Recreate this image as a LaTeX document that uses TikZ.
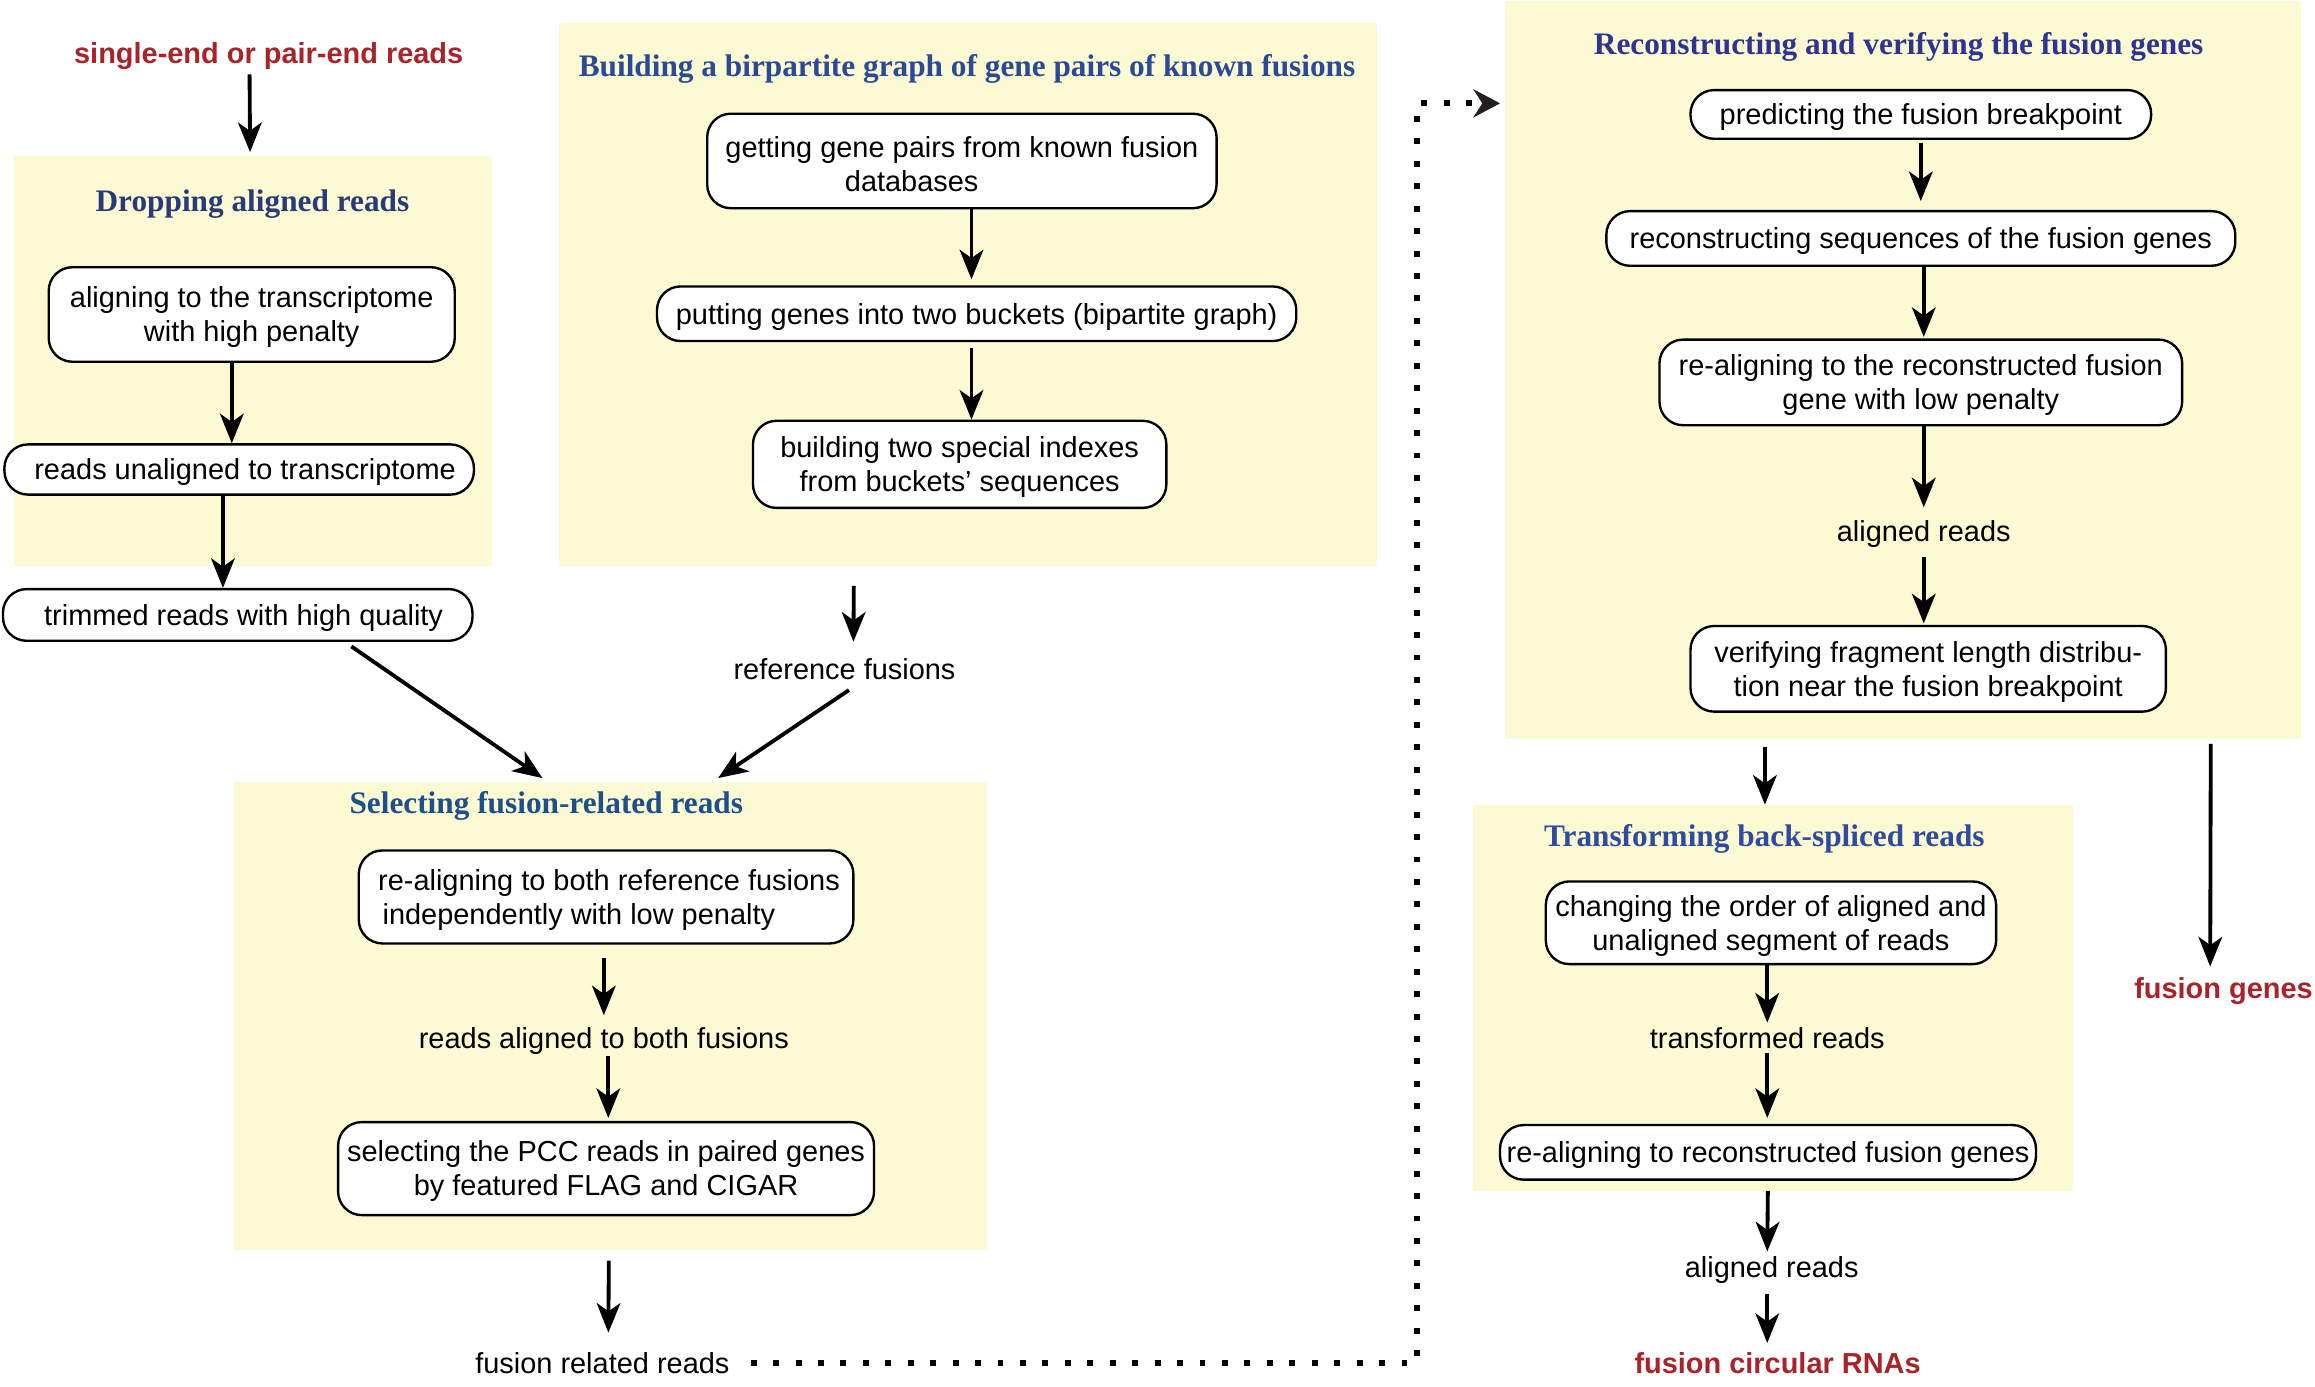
\documentclass[tikz,border=0pt]{standalone}
\usepackage{fontspec}
\setmainfont{Liberation Sans}
\newfontfamily\headserif{Liberation Serif}
\usetikzlibrary{arrows.meta}

\definecolor{panelfill}{HTML}{FCFAD2}
\definecolor{outred}{HTML}{A8232A}
\definecolor{hdA}{HTML}{283A7A}
\definecolor{hdB}{HTML}{2A4A98}
\definecolor{hdC}{HTML}{1D4F8C}
\definecolor{hdD}{HTML}{2D3492}
\definecolor{hdE}{HTML}{2E4B9F}
\definecolor{dotink}{HTML}{231F20}

\newcommand\bodyfont{\fontsize{9.8}{11.5}\selectfont}
\newcommand\headfont{\headserif\bfseries\fontsize{10.6}{12}\selectfont}
% tall strut that sets the text of a box a little lower
\newcommand\topstrut{\rule{0pt}{9pt}}

\tikzset{
  panel/.style={fill=panelfill, inner sep=0pt, anchor=north west},
  stepbox/.style={draw, line width=0.8pt, rounded corners=8pt, fill=white,
    align=center, inner sep=0pt, font=\bodyfont},
  plain/.style={inner sep=0pt, text height=8pt, text depth=1pt, font=\bodyfont},
  outcome/.style={plain, font=\bodyfont\bfseries, text=outred},
  head/.style={inner sep=0pt, text height=8.5pt, text depth=1.5pt, font=\headfont},
  arr/.style={line width=1.3pt, -{Stealth[length=10pt,width=8pt,inset=2.8pt]}},
  dotline/.style={line width=2pt, dash pattern=on 2pt off 5.6pt,
    -{Stealth[length=9pt,width=9.5pt,inset=3pt,color=dotink]}}
}

\begin{document}
\begin{tikzpicture}[x=0.5pt,y=-0.5pt]
\useasboundingbox (0,0) rectangle (1568,939);

% background panels
\node[panel, minimum width=162pt,   minimum height=139pt]   (p1) at (9,105)   {};
\node[panel, minimum width=277pt,   minimum height=184pt]   (p2) at (378,15)  {};
\node[panel, minimum width=255pt,   minimum height=158.5pt] (p3) at (158,529) {};
\node[panel, minimum width=269.5pt, minimum height=250pt]   (p4) at (1019,0)  {};
\node[panel, minimum width=203.5pt, minimum height=130.5pt] (p5) at (997,545)  {};

% panel headings
\node[head, text=hdA] (h1) at (171,136)  {Dropping aligned reads};
\node[head, text=hdB] (h2) at (655,45)   {Building a birpartite graph of gene pairs of known fusions};
\node[head, text=hdC] (h3) at (370,544)  {Selecting fusion-related reads};
\node[head, text=hdD] (h4) at (1286,30)  {Reconstructing and verifying the fusion genes};
\node[head, text=hdE] (h5) at (1195,566) {Transforming back-spliced reads};

% dropping aligned reads
\node[outcome] (t0) at (182,36) {single-end or pair-end reads};
\node[stepbox, minimum width=137.5pt, minimum height=32pt] (a1) at (170.5,213)
  {\topstrut aligning to the transcriptome\\with high penalty};
\node[stepbox, minimum width=159pt, minimum height=17pt] (a2) at (162,318)
  {\topstrut\hspace*{4pt}reads unaligned to transcriptome};
\node[stepbox, minimum width=159pt, minimum height=17.5pt] (a3) at (161,416.5)
  {\topstrut\hspace*{4pt}trimmed reads with high quality};

% bipartite graph of known fusions
\node[stepbox, minimum width=172.5pt, minimum height=32pt] (b1) at (651.5,109)
  {\topstrut getting gene pairs from known fusion\\databases\hspace*{34pt}};
\node[stepbox, minimum width=216.5pt, minimum height=18.5pt] (b2) at (661.5,212.5)
  {\topstrut putting genes into two buckets (bipartite graph)};
\node[stepbox, minimum width=140pt, minimum height=29.5pt] (b3) at (650,314.5)
  {\topstrut building two special indexes\\from buckets’ sequences};
\node[plain] (tRef) at (572,453) {reference fusions};

% selecting fusion-related reads
\node[stepbox, align=left, minimum width=167.5pt, minimum height=31.5pt] (c1) at (410.5,607.5)
  {\topstrut\hspace*{2pt}re-aligning to both reference fusions\\\hspace*{3.5pt}independently with low penalty};
\node[plain] (tRA) at (409,703) {reads aligned to both fusions};
\node[stepbox, minimum width=181.5pt, minimum height=31.5pt] (c2) at (410.5,791.5)
  {\topstrut selecting the PCC reads in paired genes\\by featured FLAG and CIGAR};
\node[plain] (tFR) at (408,923) {fusion related reads};

% reconstructing and verifying
\node[stepbox, minimum width=156pt, minimum height=16.5pt] (d1) at (1301,77.5)
  {\topstrut predicting the fusion breakpoint};
\node[stepbox, minimum width=213pt, minimum height=18.5pt] (d2) at (1301,161.5)
  {\topstrut reconstructing sequences of the fusion genes};
\node[stepbox, minimum width=177pt, minimum height=29pt] (d3) at (1301,259)
  {\topstrut re-aligning to the reconstructed fusion\\gene with low penalty};
\node[plain] (tAR1) at (1303,360) {aligned reads};
\node[stepbox, minimum width=161pt, minimum height=29pt] (d4) at (1306,453)
  {\topstrut verifying fragment length distribu-\\tion near the fusion breakpoint};
\node[outcome] (tFG) at (1506,669) {fusion genes};

% transforming back-spliced reads
\node[stepbox, minimum width=152.5pt, minimum height=28pt] (e1) at (1199.5,625)
  {\topstrut changing the order of aligned and\\unaligned segment of reads};
\node[plain] (tTR) at (1197,703) {transformed reads};
\node[stepbox, minimum width=181.5pt, minimum height=18.5pt] (e2) at (1197.5,780.5)
  {\topstrut re-aligning to reconstructed fusion genes};
\node[plain] (tAR2) at (1200,858) {aligned reads};
\node[outcome] (tFC) at (1204,923) {fusion circular RNAs};

% connectors: left column
\draw[arr, shorten <=2.5pt, shorten >=1pt] ([xshift=-6.5pt]t0.south) -- ([xshift=-1pt]p1.north);
\draw[arr] ([xshift=-6.75pt]a1.south) -- ([xshift=-2.5pt]a2.north);
\draw[arr] ([xshift=-5.5pt]a2.south) -- ([xshift=-5pt]a3.north);
\draw[arr] ([xshift=38.5pt,yshift=-1.5pt]a3.south) -- ([xshift=-23pt,yshift=1pt]p3.north);

% connectors: bipartite graph
\draw[arr, shorten >=2pt] ([xshift=3.25pt]b1.south) -- ([xshift=-1.75pt]b2.north);
\draw[arr, shorten <=2pt] ([xshift=-1.75pt]b2.south) -- ([xshift=4pt]b3.north);
\draw[arr, shorten <=6.5pt, shorten >=4.5pt] ([xshift=-38.5pt]p2.south) -- ([xshift=3pt]tRef.north);
\draw[arr] ([xshift=1.5pt,yshift=-2.5pt]tRef.south) -- ([xshift=36.5pt,yshift=1pt]p3.north);

% connectors: fusion-related reads
\draw[arr, shorten <=4.5pt, shorten >=3pt] ([xshift=-0.75pt]c1.south) -- (tRA.north);
\draw[arr, shorten <=1.5pt, shorten >=1pt] ([xshift=1.5pt]tRA.south) -- ([xshift=0.75pt]c2.north);
\draw[arr, shorten <=3.5pt, shorten >=5.5pt] ([xshift=-0.5pt]p3.south) -- ([xshift=2pt]tFR.north);

% dotted hand-over to the reconstruction stage
\coordinate (hop) at (960,70);
\draw[dotline, shorten >=1.5pt] ([xshift=7pt]tFR.east) -| (hop) -- (p4.west |- hop);

% connectors: reconstruction
\draw[arr, shorten <=1pt, shorten >=3pt] (d1.south) -- (d2.north);
\draw[arr, shorten >=0.5pt] ([xshift=1pt]d2.south) -- ([xshift=1pt]d3.north);
\draw[arr, shorten >=3.5pt] ([xshift=1pt]d3.south) -- (tAR1.north);
\draw[arr, shorten <=4pt, shorten >=0.5pt] (tAR1.south) -- ([xshift=-1.5pt]d4.north);
\draw[arr, shorten <=2.5pt] ([xshift=-46.75pt]p4.south) -- ([xshift=-2.75pt]p5.north);
\draw[arr, shorten <=1.5pt, shorten >=2.5pt] ([xshift=104.25pt]p4.south) -- ([xshift=-4.5pt]tFG.north);

% connectors: back-spliced reads
\draw[arr, shorten >=0.5pt] ([xshift=-1.25pt]e1.south) -- (tTR.north);
\draw[arr, shorten <=0.5pt, shorten >=2pt] (tTR.south) -- ([xshift=-0.25pt]e2.north);
\draw[arr, shorten >=0.5pt] ([xshift=-1.75pt]p5.south) -- ([xshift=-1.5pt]tAR2.north);
\draw[arr, shorten <=4.5pt, shorten >=2pt] ([xshift=-1.5pt]tAR2.south) -- ([xshift=-3.5pt]tFC.north);
\end{tikzpicture}
\end{document}
